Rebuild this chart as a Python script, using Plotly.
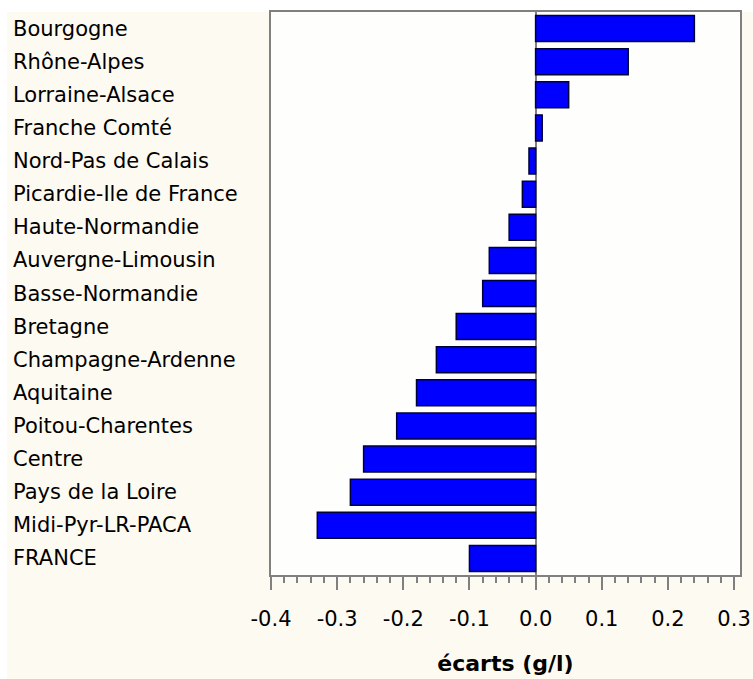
import plotly.graph_objects as go

regions = [
    "Bourgogne", "Rhône-Alpes", "Lorraine-Alsace", "Franche Comté",
    "Nord-Pas de Calais", "Picardie-Ile de France", "Haute-Normandie",
    "Auvergne-Limousin", "Basse-Normandie", "Bretagne", "Champagne-Ardenne",
    "Aquitaine", "Poitou-Charentes", "Centre", "Pays de la Loire",
    "Midi-Pyr-LR-PACA", "FRANCE",
]
ecarts = [
    0.24, 0.14, 0.05, 0.01,
    -0.01, -0.02, -0.04,
    -0.07, -0.08, -0.12, -0.15,
    -0.18, -0.21, -0.26, -0.28,
    -0.33, -0.10,
]
tick_vals = [-0.4, -0.3, -0.2, -0.1, 0.0, 0.1, 0.2, 0.3]
tick_text = ["-0.4", "-0.3", "-0.2", "-0.1", "0.0", "0.1", "0.2", "0.3"]
x_title = "écarts (g/l)"

FONT = "DejaVu Sans"
GRAY = "#808080"
BEIGE = "#FDFAF2"

fig = go.Figure(
    go.Bar(
        x=ecarts,
        y=regions,
        orientation="h",
        marker=dict(color="#0000FF", line=dict(color="#00003A", width=1.5)),
        hoverinfo="x+y",
    )
)

annotations = [
    dict(
        x=-0.5544, xref="paper", y=r, yref="y",
        text=r, showarrow=False, xanchor="left", yanchor="middle",
        font=dict(family=FONT, size=21, color="#000000"),
    )
    for r in regions
]

fig.update_layout(
    width=753, height=679,
    margin=dict(l=271, r=13, t=12, b=104),
    paper_bgcolor=BEIGE,
    plot_bgcolor="#FEFEFC",
    showlegend=False,
    bargap=0.215,
    annotations=annotations,
    shapes=[
        dict(type="rect", xref="paper", yref="paper", x0=-0.6, x1=1.05,
             y0=1.0, y1=1.03, fillcolor="#FFFFFF", line=dict(width=0), layer="below"),
        dict(type="rect", xref="paper", yref="paper", x0=-0.6, x1=-0.5629,
             y0=-0.2, y1=1.03, fillcolor="#FFFFFF", line=dict(width=0), layer="below"),
    ],
    xaxis=dict(
        range=[-0.4, 0.309],
        automargin=False,
        tickvals=tick_vals, ticktext=tick_text,
        ticks="outside", ticklen=13, tickwidth=1.5, tickcolor=GRAY,
        minor=dict(dtick=0.02, tick0=-0.4, ticks="outside", ticklen=6,
                   tickwidth=1.5, tickcolor=GRAY, showgrid=False),
        showgrid=False,
        zeroline=True, zerolinecolor=GRAY, zerolinewidth=2,
        showline=True, linecolor=GRAY, linewidth=1.5, mirror=True,
        tickfont=dict(family=FONT, size=21, color="#000000"),
        ticklabelstandoff=11,
        title=dict(text="<b>" + x_title + "</b>",
                   font=dict(family=FONT, size=22, color="#000000"), standoff=26),
    ),
    yaxis=dict(
        categoryorder="array", categoryarray=regions,
        autorange="reversed",
        automargin=False,
        showticklabels=False, ticks="",
        showgrid=False, zeroline=False,
        showline=True, linecolor=GRAY, linewidth=1.5, mirror=True,
    ),
)

fig.write_html(
    "out.html",
    config={"displayModeBar": False},
    post_script="document.body.style.margin='0';document.body.style.overflow='hidden';",
)
